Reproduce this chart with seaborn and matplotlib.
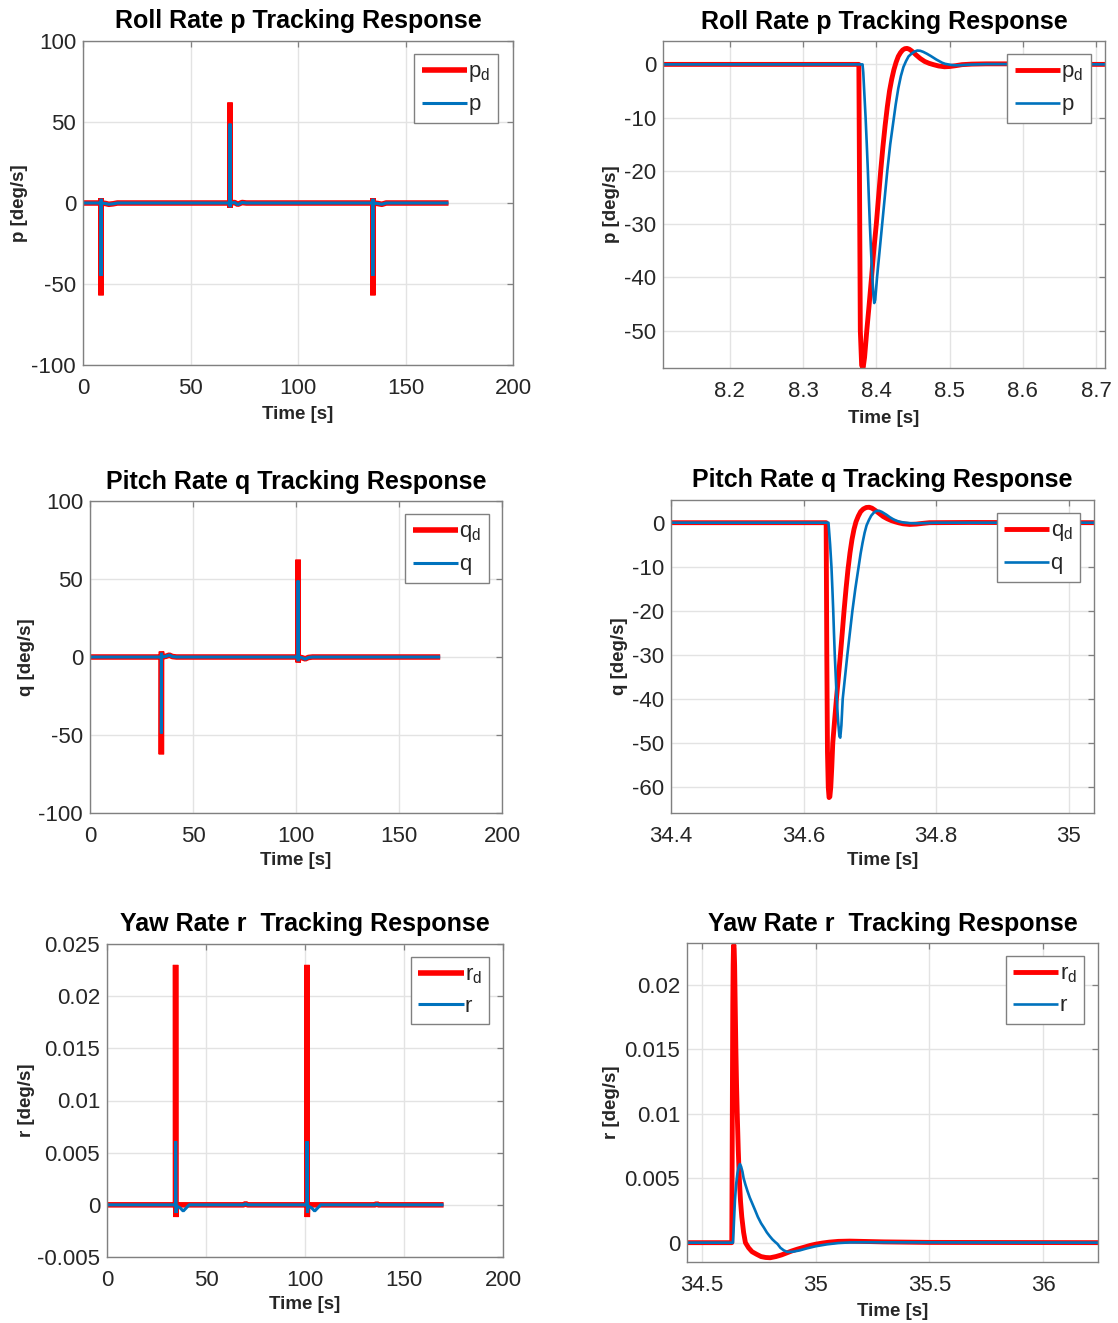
import matplotlib
matplotlib.use("Agg")
import matplotlib.pyplot as plt
import seaborn as sns

# ---------------- data ----------------
# Roll rate, full run
p_full_t_d = [0, 8.376, 8.380, 8.420, 8.440, 8.520, 10.5, 12.0, 14.0, 16.0,
              68.30, 68.35, 68.38, 68.42, 68.44, 68.52, 70.5, 72.0, 74.0, 76.0,
              134.83, 134.84, 134.88, 134.90, 135.0, 137.0, 139.0, 141.0, 170.0]
p_full_d = [0, 0, -57, 0, 3.0, 0, -0.3, -0.8, -0.5, 0,
            0, -2.5, 62, 0, -3.0, 0, 0.3, -0.8, 0.3, 0,
            0, -57, 0, 3.0, 0, -0.3, -0.8, 0, 0]
p_full_t = [0, 8.381, 8.397, 8.440, 8.460, 8.550, 10.5, 12.0, 14.0, 16.0,
            68.30, 68.34, 68.40, 68.44, 68.47, 68.55, 70.5, 72.0, 74.0, 76.0,
            134.81, 134.83, 134.87, 134.90, 135.0, 137.0, 139.0, 141.0, 170.0]
p_full = [0, 0, -45, 0, 2.6, 0, -0.3, -0.8, -0.5, 0,
          0, -1.5, 49, 0, -2.6, 0, 0.3, -1.0, 0.3, 0,
          0, -45, 0, 2.6, 0, -0.3, -0.8, 0, 0]

# Roll rate, zoom on first event
p_zoom_t_d = [8.10, 8.3762, 8.3772, 8.3782, 8.3800, 8.3820, 8.3840, 8.3870, 8.3900,
              8.3935, 8.3965, 8.4000, 8.4030, 8.4060, 8.4090, 8.4120, 8.4150, 8.4180,
              8.4210, 8.4240, 8.4270, 8.4300, 8.4330, 8.4360, 8.4390, 8.4420, 8.4450,
              8.4480, 8.4510, 8.4540, 8.4600, 8.4660, 8.4720, 8.4780, 8.4850, 8.4930,
              8.5000, 8.5080, 8.5170, 8.5300, 8.55, 8.60, 8.65, 8.72]
p_zoom_d = [0, 0, -25, -50, -56.5, -57, -55, -50, -45.5,
            -40, -35, -30, -25, -20, -15.5, -11.5, -8, -5,
            -2.8, -1, 0.4, 1.5, 2.2, 2.7, 2.95, 3.0, 2.85,
            2.55, 2.2, 1.8, 1.1, 0.55, 0.2, -0.05, -0.3, -0.45,
            -0.4, -0.25, -0.05, 0.05, 0.1, 0.1, 0, 0]
p_zoom_t = [8.10, 8.3812, 8.3822, 8.3835, 8.3854, 8.3870, 8.3885, 8.3898, 8.3912,
            8.3928, 8.3946, 8.3960, 8.3972, 8.3985, 8.4010, 8.4045, 8.4080, 8.4115,
            8.4150, 8.4190, 8.4230, 8.4265, 8.4300, 8.4335, 8.4370, 8.4405, 8.4440,
            8.4480, 8.4520, 8.4560, 8.4600, 8.4640, 8.4690, 8.4740, 8.4780, 8.4820,
            8.4860, 8.4900, 8.4940, 8.4980, 8.5030, 8.5080, 8.5150, 8.5250, 8.55,
            8.60, 8.72]
p_zoom = [0, 0, -1.5, -5, -10, -15, -20, -25, -30,
          -35, -40, -43.2, -44.8, -44.2, -40, -35, -30, -25,
          -20, -15, -11, -7.5, -4.5, -2.2, -0.5, 0.6, 1.5,
          2.0, 2.4, 2.6, 2.55, 2.35, 2.0, 1.6, 1.25, 0.9,
          0.6, 0.3, 0.1, 0, -0.12, -0.18, -0.15, -0.05, 0.05,
          0.05, 0]

# Pitch rate, full run
q_full_t_d = [0, 34.634, 34.638, 34.680, 34.700, 34.790, 37.0, 38.5, 40.0, 42.0,
              101.000, 101.004, 101.045, 101.065, 101.150, 103.0, 104.5, 106.0, 108.0, 170.0]
q_full_d = [0, 0, -62.4, 0, 3.5, 0, 0.5, 1.2, 0.3, 0,
            0, 62.4, 0, -3.5, 0, -0.5, -1.2, -0.3, 0, 0]
q_full_t = [0, 34.638, 34.654, 34.695, 34.710, 34.800, 37.0, 38.5, 40.0, 42.0,
            101.004, 101.020, 101.061, 101.076, 101.160, 103.0, 104.5, 106.0, 108.0, 170.0]
q_full = [0, 0, -49, 0, 2.7, 0, 0.5, 1.3, 0.3, 0,
          0, 49, 0, -2.7, 0, -0.5, -1.4, -0.3, 0, 0]

# Pitch rate, zoom on first event
q_zoom_t_d = [34.40, 34.6340, 34.6350, 34.6360, 34.6372, 34.6384, 34.6396, 34.6410,
              34.6425, 34.6440, 34.6467, 34.6495, 34.6525, 34.6555, 34.6583, 34.6610,
              34.6640, 34.6670, 34.6700, 34.6730, 34.6760, 34.6790, 34.6825, 34.6860,
              34.6900, 34.6945, 34.6990, 34.7030, 34.7080, 34.7140, 34.7200, 34.7260,
              34.7320, 34.7380, 34.7440, 34.7500, 34.7600, 34.7700, 34.7800, 34.7900,
              34.8500, 35.05]
q_zoom_d = [0, 0, -30, -52, -60, -62.4, -62.2, -60,
            -55.5, -50, -45, -40, -35, -30, -25, -20,
            -15, -10.5, -6.8, -3.8, -1.5, 0.2, 1.5, 2.5,
            3.1, 3.45, 3.5, 3.3, 2.8, 2.1, 1.4, 0.9,
            0.5, 0.2, -0.05, -0.25, -0.4, -0.32, -0.15, 0,
            0.05, 0]
q_zoom_t = [34.40, 34.6375, 34.6385, 34.6400, 34.6420, 34.6434, 34.6447, 34.6458,
            34.6470, 34.6485, 34.6500, 34.6520, 34.6540, 34.6553, 34.6570, 34.6590,
            34.6625, 34.6660, 34.6698, 34.6736, 34.6780, 34.6830, 34.6860, 34.6890,
            34.6920, 34.6950, 34.6985, 34.7020, 34.7060, 34.7100, 34.7140, 34.7180,
            34.7250, 34.7300, 34.7350, 34.7400, 34.7450, 34.7530, 34.7620, 34.7700,
            34.7850, 34.8000, 35.05]
q_zoom = [0, 0, -2, -5, -10, -15, -20, -25,
          -30, -35, -40, -45, -48.5, -48.8, -46, -40,
          -35, -30, -25, -20, -15, -10, -7, -4.5,
          -2.3, -0.6, 0.6, 1.6, 2.3, 2.7, 2.7, 2.45,
          1.8, 1.25, 0.8, 0.45, 0.2, 0, -0.12, -0.15,
          -0.08, 0, 0]

# Yaw rate, full run
r_full_t_d = [0, 34.631, 34.639, 34.691, 34.800, 35.000, 35.130, 35.5, 69.0, 70.0, 71.0,
              100.991, 100.999, 101.051, 101.160, 101.360, 101.490, 101.9, 135.5, 136.2, 137.0, 170.0]
r_full_d = [0, 0, 0.023, 0, -0.00117, -0.00013, 0.00013, 0, 0, 0.00012, 0,
            0, 0.023, 0, -0.00117, -0.00013, 0.00013, 0, 0, 0.00012, 0, 0]
r_full_t = [0, 34.636, 34.667, 34.832, 34.871, 35.1, 37.0, 38.5, 40.0, 41.5, 69.0, 70.0, 71.0,
            100.996, 101.027, 101.192, 101.231, 101.46, 103.4, 104.9, 106.4, 107.9,
            135.5, 136.2, 137.0, 170.0]
r_full = [0, 0, 0.0061, 0, -0.00078, -0.0001, -0.0003, -0.0006, -0.0003, 0, 0, 0.0001, 0,
          0, 0.0061, 0, -0.00078, -0.0001, -0.0003, -0.0006, -0.0003, 0,
          0, 0.0001, 0, 0]

# Yaw rate, zoom on first event
r_zoom_t_d = [34.43, 34.631, 34.6325, 34.6340, 34.6355, 34.6370, 34.6385, 34.6400,
              34.6415, 34.6435, 34.6460, 34.6490, 34.6520, 34.6550, 34.6595, 34.6640,
              34.6695, 34.6750, 34.6830, 34.6910, 34.7050, 34.7200, 34.7400, 34.7600,
              34.7800, 34.8000, 34.8250, 34.8500, 34.8720, 34.8940, 34.9200, 34.9500,
              34.9750, 35.0000, 35.0300, 35.0600, 35.1000, 35.1500, 35.2000, 35.3000,
              35.5, 36.30]
r_zoom_d = [0, 0, 0.006, 0.013, 0.0185, 0.0215, 0.0229, 0.0231,
            0.0228, 0.0215, 0.0185, 0.0150, 0.0122, 0.0100, 0.0072, 0.0050,
            0.0032, 0.0020, 0.0008, 0, -0.0004, -0.0007, -0.0009, -0.00108,
            -0.00115, -0.00117, -0.00108, -0.00095, -0.0008, -0.00065, -0.0005, -0.00035,
            -0.00022, -0.00012, -0.00003, 0.00004, 0.0001, 0.00012, 0.0001, 0.00006,
            0.00002, 0]
r_zoom_t = [34.43, 34.636, 34.6385, 34.6410, 34.6450, 34.6500, 34.6560, 34.6620,
            34.6670, 34.6720, 34.6780, 34.6830, 34.6910, 34.7000, 34.7100, 34.7220,
            34.7340, 34.7456, 34.7600, 34.7730, 34.7850, 34.7980, 34.8100, 34.8220,
            34.8320, 34.8450, 34.8600, 34.8750, 34.9000, 34.9300, 34.9600, 35.0000,
            35.0500, 35.1000, 35.1500, 35.2000, 36.30]
r_zoom = [0, 0, 0.0008, 0.0018, 0.0033, 0.0045, 0.0054, 0.0059,
          0.0061, 0.0059, 0.0055, 0.0050, 0.0045, 0.0040, 0.0035, 0.0030,
          0.0025, 0.0020, 0.0015, 0.00115, 0.0008, 0.0005, 0.00025, 0.00005,
          -0.0001, -0.0004, -0.0006, -0.00072, -0.0007, -0.0006, -0.00045, -0.00028,
          -0.00013, -0.00003, 0.00002, 0.00003, 0]

titles = ["Roll Rate p Tracking Response", "Pitch Rate q Tracking Response",
          "Yaw Rate r  Tracking Response"]
ylabels = ["p [deg/s]", "q [deg/s]", "r [deg/s]"]
xlabel = "Time [s]"
leg_d = ["$p_d$", "$q_d$", "$r_d$"]
leg = ["p", "q", "r"]

full_xticks = [0, 50, 100, 150, 200]
full_yticks_pq = [-100, -50, 0, 50, 100]
r_full_yticks = [-0.005, 0, 0.005, 0.01, 0.015, 0.02, 0.025]
r_full_yticklabels = ["-0.005", "0", "0.005", "0.01", "0.015", "0.02", "0.025"]
p_zoom_xticks = [8.2, 8.3, 8.4, 8.5, 8.6, 8.7]
p_zoom_yticks = [-50, -40, -30, -20, -10, 0]
q_zoom_xticks = [34.4, 34.6, 34.8, 35.0]
q_zoom_xticklabels = ["34.4", "34.6", "34.8", "35"]
q_zoom_yticks = [-60, -50, -40, -30, -20, -10, 0]
r_zoom_xticks = [34.5, 35.0, 35.5, 36.0]
r_zoom_xticklabels = ["34.5", "35", "35.5", "36"]
r_zoom_yticks = [0, 0.005, 0.01, 0.015, 0.02]
r_zoom_yticklabels = ["0", "0.005", "0.01", "0.015", "0.02"]

# ---------------- style ----------------
sns.set_style("white")
plt.rcParams['font.family'] = ['Liberation Sans', 'DejaVu Sans']
plt.rcParams['mathtext.default'] = 'regular'
plt.rcParams['axes.unicode_minus'] = False

RED = "#FF0000"
BLUE = "#0072BD"
TXT = "#262626"
EDGE = "#808080"

W, H = 1118, 1323
fig = plt.figure(figsize=(W / 100, H / 100), dpi=100)
fig.patch.set_facecolor("white")

def make_ax(l, t, r, b):
    return fig.add_axes([l / W, 1 - b / H, (r - l) / W, (b - t) / H])

panels = [
    dict(rect=(83, 41, 513, 365), td=p_full_t_d, vd=p_full_d, t=p_full_t, v=p_full,
         xlim=(0, 200), ylim=(-100, 100), xt=full_xticks, xtl=None, yt=full_yticks_pq, ytl=None,
         k=0, full=True, ylc=-0.128, xly=-0.126, leg=(0.965, 0.96)),
    dict(rect=(663, 41, 1105, 368), td=p_zoom_t_d, vd=p_zoom_d, t=p_zoom_t, v=p_zoom,
         xlim=(8.109, 8.712), ylim=(-57.0, 4.39), xt=p_zoom_xticks, xtl=None, yt=p_zoom_yticks, ytl=None,
         k=0, full=False, ylc=-0.097, xly=-0.128, leg=(0.968, 0.96)),
    dict(rect=(90, 501, 502, 813), td=q_full_t_d, vd=q_full_d, t=q_full_t, v=q_full,
         xlim=(0, 200), ylim=(-100, 100), xt=full_xticks, xtl=None, yt=full_yticks_pq, ytl=None,
         k=1, full=True, ylc=-0.133, xly=-0.125, leg=(0.968, 0.958)),
    dict(rect=(671, 500, 1094, 813), td=q_zoom_t_d, vd=q_zoom_d, t=q_zoom_t, v=q_zoom,
         xlim=(34.4, 35.038), ylim=(-65.9, 5.15), xt=q_zoom_xticks, xtl=q_zoom_xticklabels,
         yt=q_zoom_yticks, ytl=None,
         k=1, full=False, ylc=-0.101, xly=-0.125, leg=(0.967, 0.958)),
    dict(rect=(107, 944, 503, 1257), td=r_full_t_d, vd=r_full_d, t=r_full_t, v=r_full,
         xlim=(0, 200), ylim=(-0.005, 0.025), xt=full_xticks, xtl=None, yt=r_full_yticks,
         ytl=r_full_yticklabels,
         k=2, full=True, ylc=-0.181, xly=-0.125, leg=(0.965, 0.958)),
    dict(rect=(687, 943, 1098, 1262), td=r_zoom_t_d, vd=r_zoom_d, t=r_zoom_t, v=r_zoom,
         xlim=(34.434, 36.242), ylim=(-0.0015, 0.02324), xt=r_zoom_xticks, xtl=r_zoom_xticklabels,
         yt=r_zoom_yticks, ytl=r_zoom_yticklabels,
         k=2, full=False, ylc=-0.162, xly=-0.129, leg=(0.966, 0.958)),
]

for P in panels:
    ax = make_ax(*P["rect"])
    k = P["k"]
    lw_r = 4.0 if P["full"] else 3.5
    lw_b = 2.2 if P["full"] else 1.9
    sns.lineplot(x=P["td"], y=P["vd"], ax=ax, color=RED, linewidth=lw_r, sort=False,
                 estimator=None, label=leg_d[k], legend=False)
    sns.lineplot(x=P["t"], y=P["v"], ax=ax, color=BLUE, linewidth=lw_b, sort=False,
                 estimator=None, label=leg[k], legend=False)
    for ln in ax.get_lines():
        ln.set_solid_capstyle("butt")
        ln.set_solid_joinstyle("bevel" if P["full"] else "round")

    ax.set_xlim(*P["xlim"])
    ax.set_ylim(*P["ylim"])
    ax.set_xticks(P["xt"])
    if P["xtl"] is not None:
        ax.set_xticklabels(P["xtl"])
    ax.set_yticks(P["yt"])
    if P["ytl"] is not None:
        ax.set_yticklabels(P["ytl"])

    ax.grid(True, color="#e3e3e3", linewidth=1.0)
    ax.set_axisbelow(True)
    for s in ax.spines.values():
        s.set_color(EDGE)
        s.set_linewidth(1.0)
        s.set_visible(True)
    ax.tick_params(direction="in", length=4, width=0.9, color=EDGE,
                   top=True, right=True, labelsize=16, labelcolor=TXT)
    ax.tick_params(axis="x", pad=9.5)
    ax.tick_params(axis="y", pad=5)

    ax.set_title(titles[k], fontsize=18, fontweight="bold", color="black", pad=9)
    ax.set_xlabel(xlabel, fontsize=13.5, fontweight="bold", color=TXT)
    ax.set_ylabel(ylabels[k], fontsize=13.5, fontweight="bold", color=TXT)
    ax.yaxis.set_label_coords(P["ylc"], 0.5)
    ax.xaxis.set_label_coords(0.5, P["xly"])

    lg = ax.legend(loc="upper right", bbox_to_anchor=P["leg"], borderaxespad=0,
                   fontsize=16, frameon=True, fancybox=False, shadow=False,
                   framealpha=1, edgecolor=EDGE, handlelength=2.05, handletextpad=0.05,
                   borderpad=0.33, labelspacing=0.45)
    lg.get_frame().set_linewidth(1.0)
    for t in lg.get_texts():
        t.set_color(TXT)

fig.savefig("out.png", dpi=100, facecolor="white")
